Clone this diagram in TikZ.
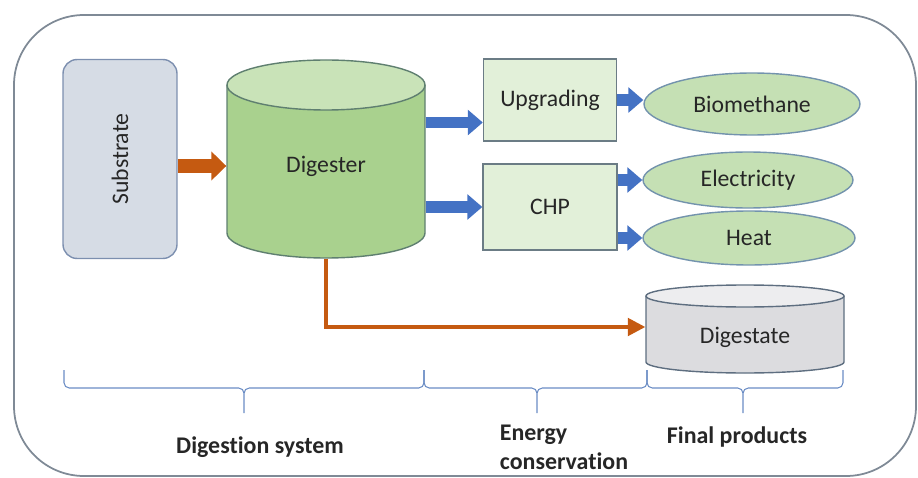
\documentclass[tikz,border=0pt]{standalone}
\usepackage{fontspec}
\setmainfont{Carlito}[Ligatures={NoCommon}]
\usetikzlibrary{positioning,calc,shapes.geometric,arrows.meta}
\definecolor{cFrame}{HTML}{7F8A96}
\definecolor{cSubFill}{HTML}{D6DCE5}
\definecolor{cSubLine}{HTML}{7C8FAF}
\definecolor{cGreen}{HTML}{A9D18E}
\definecolor{cGreenTop}{HTML}{C9E3B8}
\definecolor{cGreenLine}{HTML}{5F7F70}
\definecolor{cProcFill}{HTML}{E2F0D9}
\definecolor{cProcLine}{HTML}{6B7C85}
\definecolor{cProdFill}{HTML}{C5E0B4}
\definecolor{cProdLine}{HTML}{7393AD}
\definecolor{cGrey}{HTML}{DCDCDF}
\definecolor{cGreyTop}{HTML}{EDEDEF}
\definecolor{cGreyLine}{HTML}{5E6E80}
\definecolor{cBlue}{HTML}{4472C4}
\definecolor{cOrange}{HTML}{C55A11}
\definecolor{cBrace}{HTML}{6A8CC4}
\definecolor{cText}{HTML}{262626}
\tikzset{
  every picture/.style={line width=0.8pt},
  sframe/.style={draw=cFrame, line width=1pt, rounded corners=1.4cm},
  ssub/.style={draw=cSubLine, fill=cSubFill, rounded corners=8pt, text=cText,
               font=\fontsize{13.5}{15}\selectfont},
  sproc/.style={draw=cProcLine, fill=cProcFill, text=cText,
                font=\fontsize{13.5}{15}\selectfont},
  sprod/.style={ellipse, draw=cProdLine, fill=cProdFill, inner sep=0pt, text=cText,
                font=\fontsize{13.5}{15}\selectfont},
  stank/.style={inner sep=0pt, text=cText, font=\fontsize{13.5}{15}\selectfont},
  sgas/.style={cBlue, line width=6.8pt, -{Triangle[width=14pt,length=8.5pt]}},
  sfeed/.style={cOrange, line width=8pt, -{Triangle[width=16pt,length=8.5pt]}},
  sout/.style={cOrange, line width=2pt, -{Triangle[width=10pt,length=10pt]}},
  sbrace/.style={draw=cBrace, line width=0.6pt, rounded corners=3pt},
  slabel/.style={text=cText, font=\bfseries\fontsize{13.6}{16.5}\selectfont},
}
\begin{document}
\begin{tikzpicture}[x=0.02cm,y=0.02cm]
  \useasboundingbox (0,0) rectangle (918,477);
  \draw[sframe] (14,1) rectangle (916,462);

  % digester tank
  \fill[cGreen] (227,392) -- (227,244) arc[start angle=180,end angle=360,x radius=99,y radius=25] -- (425,392) -- cycle;
  \draw[cGreenLine] (227,392) -- (227,244) arc[start angle=180,end angle=360,x radius=99,y radius=25] -- (425,392);
  \filldraw[draw=cGreenLine, fill=cGreenTop] (326,392) ellipse [x radius=99, y radius=25];

  % digestate tank
  \fill[cGrey] (646,181) -- (646,115) arc[start angle=180,end angle=360,x radius=99,y radius=11] -- (844,181) -- cycle;
  \draw[cGreyLine] (646,181) -- (646,115) arc[start angle=180,end angle=360,x radius=99,y radius=11] -- (844,181);
  \filldraw[draw=cGreyLine, fill=cGreyTop] (745,181) ellipse [x radius=99, y radius=11];

  \node[ssub, minimum width=2.28cm, minimum height=3.98cm] (sub) at (120,318) {\rotatebox{90}{Substrate}};
  \node[stank, minimum width=3.96cm, minimum height=3.68cm] (dig) at (326,311) {Digester};
  \node[stank, minimum width=3.96cm, minimum height=1cm] (dgs) at (745,140) {Digestate};

  \node[sproc, minimum width=2.66cm, minimum height=1.64cm] (upg) at (550,377) {Upgrading};
  \node[sproc, minimum width=2.68cm, minimum height=1.72cm] (chp) at (550,270) {CHP};

  \node[sprod, minimum width=4.32cm, minimum height=1.24cm] (bio) at (752,373) {Biomethane};
  \node[sprod, minimum width=4.2cm, minimum height=1.12cm] (elec) at (748,297) {Electricity};
  \node[sprod, minimum width=4.24cm, minimum height=1.08cm] (heat) at (749,239) {Heat};

  % flows
  \coordinate (u) at ($(upg.south west)!0.23!(upg.north west)$);
  \draw[sfeed] (sub.east |- dig) -- (dig.west);
  \draw[sgas] (dig.east |- u) -- (u);
  \draw[sgas] (dig.east |- chp) -- (chp.west);
  \draw[sgas] (upg.east) -- (upg.east -| bio.west);
  \draw[sgas] (chp.east |- elec) -- (elec.west);
  \draw[sgas] (chp.east |- heat) -- (heat.west);
  \draw[sout] (dig.south) |- ([yshift=0.2cm]dgs.west);

  % stage brackets
  \foreach \a/\m/\b in {64/244/424, 424/537/647, 647/743/843}
    \draw[sbrace] (\a,107) -- (\a,89) -- (\m,89) -- (\m,64)
                  (\b,107) -- (\b,89) -- (\m,89) -- (\m,64);

  \node[slabel] (dsys) at (260,30) {Digestion system};
  \node[slabel, align=left] (econ) at (564,30) {Energy\\conservation};
  \node[slabel] (fprod) at (737,40) {Final products};
\end{tikzpicture}
\end{document}
